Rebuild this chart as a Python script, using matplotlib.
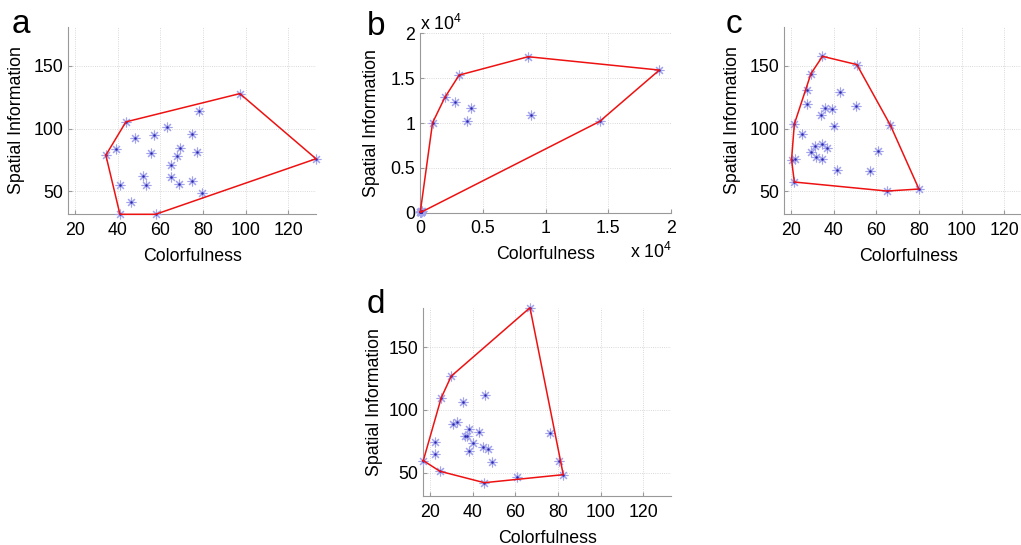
import numpy as np
import matplotlib
matplotlib.use("Agg")
import matplotlib.pyplot as plt
from matplotlib.ticker import FuncFormatter

plt.rcParams['font.family'] = ['Liberation Sans', 'DejaVu Sans']
plt.rcParams['mathtext.fontset'] = 'custom'
plt.rcParams['mathtext.rm'] = 'Liberation Sans'
plt.rcParams['mathtext.it'] = 'Liberation Sans'

# data (colorfulness, spatial information)
a_x = [43.9, 97.3, 133.0, 57.8, 41.1, 34.5, 78.3, 63.0, 57.2, 74.7, 48.0, 39.4, 69.2,
       55.6, 77.0, 68.0, 65.0, 51.9, 65.0, 53.1, 68.8, 74.7, 41.1, 79.7, 46.3]
a_y = [105.3, 127.9, 75.8, 31.4, 31.4, 78.7, 113.8, 101.1, 95.2, 96.0, 92.3, 83.5, 84.3,
       80.1, 81.6, 77.9, 71.0, 62.0, 61.4, 54.5, 55.6, 58.0, 54.5, 48.1, 41.2]

b_x = [1000, 1980, 3120, 8620, 19070, 14310, 2780, 4050, 3780, 8810,
       80, 35, 60, 110, 130, 25, 50, 95, 70, 45]
b_y = [10020, 12850, 15340, 17390, 15900, 10170, 12290, 11620, 10240, 10880,
       70, 60, 45, 70, 150, 90, 30, 100, 80, 140]

c_x = [34.8, 50.9, 66.6, 80.0, 65.0, 21.6, 20.3, 21.6, 29.4, 27.5, 27.5, 43.1, 50.5, 35.9,
       39.1, 34.1, 40.3, 25.0, 31.4, 34.8, 36.7, 29.4, 31.7, 34.4, 22.0, 60.9, 41.4, 57.2]
c_y = [157.7, 151.1, 102.7, 51.6, 50.0, 57.2, 75.0, 103.5, 143.9, 131.1, 119.4, 129.0, 117.8,
       116.0, 115.2, 110.6, 102.4, 96.0, 86.2, 88.0, 84.6, 80.9, 77.4, 75.3, 75.8, 82.2, 66.8, 65.7]

d_x = [66.9, 82.5, 45.5, 24.7, 16.9, 25.3, 30.0, 45.6, 35.6, 32.5, 30.6, 38.4, 42.8,
       36.6, 37.3, 40.0, 22.3, 45.0, 47.2, 38.4, 22.3, 49.1, 76.3, 80.6, 60.6]
d_y = [181.4, 48.4, 42.0, 51.1, 59.6, 109.6, 126.9, 112.0, 105.9, 90.4, 88.6, 84.8, 82.2,
       79.5, 79.5, 73.9, 74.2, 70.7, 68.6, 67.3, 64.9, 58.2, 81.9, 59.3, 46.3]


def convex_hull(xs, ys):
    pts = sorted(set(zip(xs, ys)))

    def cross(o, a, b):
        return (a[0] - o[0]) * (b[1] - o[1]) - (a[1] - o[1]) * (b[0] - o[0])

    lower, upper = [], []
    for p in pts:
        while len(lower) >= 2 and cross(lower[-2], lower[-1], p) <= 0:
            lower.pop()
        lower.append(p)
    for p in reversed(pts):
        while len(upper) >= 2 and cross(upper[-2], upper[-1], p) <= 0:
            upper.pop()
        upper.append(p)
    hull = lower[:-1] + upper[:-1]
    hull.append(hull[0])
    return np.array(hull)


W, H = 1021, 545
FS = 12.8
fig = plt.figure(figsize=(W / 100, H / 100), dpi=100)


def px_axes(left, top, right, bottom):
    return fig.add_axes([left / W, 1 - bottom / H, (right - left) / W, (bottom - top) / H])


def style(ax):
    for s in ['top', 'right']:
        ax.spines[s].set_visible(False)
    for s in ['left', 'bottom']:
        ax.spines[s].set_color('#999999')
        ax.spines[s].set_linewidth(0.8)
    ax.grid(True, linestyle=':', color='#cccccc', linewidth=0.6)
    ax.set_axisbelow(True)
    ax.tick_params(direction='in', length=3, color='#999999', labelsize=FS)
    ax.tick_params(axis='x', pad=5.5)
    ax.tick_params(axis='y', pad=3.5)


def draw(ax, xs, ys):
    ax.plot(xs, ys, linestyle='none', marker=(8, 2, 0), markersize=7,
            markeredgewidth=0.8, color='#a4a4ec', clip_on=False, zorder=3)
    ax.plot(xs, ys, linestyle='none', marker='o', markersize=1.8,
            markeredgewidth=0, color='#2828b0', clip_on=False, zorder=4)
    hull = convex_hull(xs, ys)
    ax.plot(hull[:, 0], hull[:, 1], color='#ee1111', linewidth=1.1, clip_on=False, zorder=5)


all_x = a_x + c_x + d_x
all_y = a_y + c_y + d_y
xlim = (min(all_x), max(all_x))
ylim = (min(all_y), max(all_y))

panels = [
    ('a', a_x, a_y, (68.3, 26.7, 316, 214.3), (12, 33), -0.175),
    ('c', c_x, c_y, (784.3, 26.7, 1032, 214.3), (726, 33), -0.175),
    ('d', d_x, d_y, (423.3, 307.7, 671, 496), (367, 313), -0.164),
]

for letter, xs, ys, box, lpos, ylx in panels:
    ax = px_axes(*box)
    style(ax)
    draw(ax, xs, ys)
    ax.set_xlim(xlim)
    ax.set_ylim(ylim)
    ax.set_xticks([20, 40, 60, 80, 100, 120])
    ax.set_yticks([50, 100, 150])
    ax.set_xlabel('Colorfulness', fontsize=FS)
    ax.set_ylabel('Spatial Information', fontsize=FS)
    ax.xaxis.set_label_coords(0.5, -0.178)
    ax.yaxis.set_label_coords(ylx, 0.5)
    fig.text(lpos[0] / W, 1 - lpos[1] / H, letter, fontsize=24, va='baseline', ha='left')

# panel b (values in units of 10^4)
ax = px_axes(420, 33.3, 671, 212.7)
style(ax)
draw(ax, b_x, b_y)
ax.set_xlim(0, 20000)
ax.set_ylim(0, 20000)
ax.set_xticks([0, 5000, 10000, 15000, 20000])
ax.set_yticks([0, 5000, 10000, 15000, 20000])
fmt = FuncFormatter(lambda v, p: f'{v / 1e4:g}')
ax.xaxis.set_major_formatter(fmt)
ax.yaxis.set_major_formatter(fmt)
ax.set_xlabel('Colorfulness', fontsize=FS)
ax.set_ylabel('Spatial Information', fontsize=FS)
ax.xaxis.set_label_coords(0.5, -0.186)
ax.yaxis.set_label_coords(-0.159, 0.5)
fig.text(367 / W, 1 - 35 / H, 'b', fontsize=24, va='baseline', ha='left')
fig.text(420 / W, 1 - 30 / H, r'x 10$^{4}$', fontsize=FS, va='baseline', ha='left')
fig.text(672 / W, 1 - 258 / H, r'x 10$^{4}$', fontsize=FS, va='baseline', ha='right')

fig.savefig('out.png', dpi=100)
